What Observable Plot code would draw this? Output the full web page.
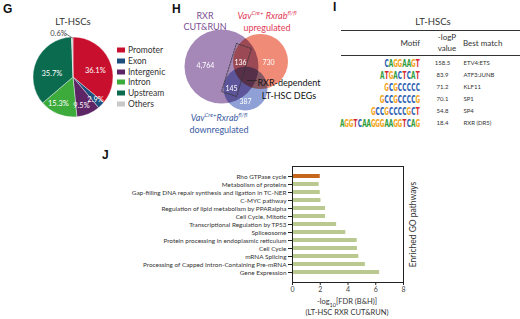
<!DOCTYPE html>
<html><head><meta charset="utf-8">
<script src="https://cdn.jsdelivr.net/npm/d3@7"></script>
<script src="https://cdn.jsdelivr.net/npm/@observablehq/plot@0.6"></script>
<style>
body{margin:0;background:#fff;}
#fig{position:relative;width:520px;height:319px;overflow:hidden;font-family:Lato,"Open Sans",sans-serif;color:#333;}
#fig svg{position:absolute;overflow:visible;}
.t{position:absolute;white-space:nowrap;line-height:1;}
.pl{font-family:Arial,"Liberation Sans",sans-serif;font-weight:bold;font-size:12px;color:#111;}
</style></head><body><div id="fig"></div>
<script>
// ---------- DATA ----------
// G: genomic distribution of RXR peaks
const pieCategories = ["Promoter","Exon","Intergenic","Intron","Upstream","Others"];
const piePercents   = [36.1, 2.9, 9.5, 15.3, 35.7, 0.6];
const pieColors     = ["#c8102e","#1d4f7e","#5d2466","#3cab3c","#0a6b4e","#c9c9c9"];

// H: Venn region counts
const vennRegions = ["RXR only","RXR ∩ up","up only","RXR ∩ down","down only"];
const vennCounts  = [4764, 136, 730, 145, 387];

// I: motif table
const motifs       = ["CAGGAAGT","ATGACTCAT","GCGCCCCC","GCCGCCCCG","GCCGCCCCGCT","AGGTCAAGGGAAGGTCAG"];
const motifLogP    = [158.5, 83.9, 71.2, 70.1, 54.8, 18.4];
const motifMatches = ["ETV4:ETS","ATF3:JUNB","KLF11","SP1","SP4","RXR (DR5)"];

// J: enriched GO pathways
const pathways = ["Rho GTPase cycle","Metabolism of proteins","Gap-filling DNA repair synthesis and ligation in TC-NER","C-MYC pathway","Regulation of lipid metabolism by PPARalpha","Cell Cycle, Mitotic","Transcriptional Regulation by TP53","Spliceosome","Protein processing in endoplasmic reticulum","Cell Cycle","mRNA Splicing","Processing of Capped Intron-Containing Pre-mRNA","Gene Expression"];
const pathwayScores = [2.0, 1.92, 2.0, 2.05, 2.38, 2.38, 3.18, 3.84, 4.66, 4.68, 4.78, 5.25, 6.28];
const xTicks = [0, 2, 4, 6, 8];

// ---------- LAYOUT ----------
const FONT = "Lato, 'Open Sans', sans-serif";
const fig = document.getElementById("fig");
function place(node, x, y){ node.style.left = x+"px"; node.style.top = y+"px"; fig.appendChild(node); return node; }
function label(html, x, y, css={}, anchor="middle"){
  const d = document.createElement("div"); d.className="t"; d.innerHTML = html;
  Object.assign(d.style, css);
  const tx = anchor==="middle" ? "-50%" : anchor==="end" ? "-100%" : "0";
  d.style.transform = `translate(${tx},-50%)`;
  return place(d, x, y);
}

// ---------- G: pie ----------
const PIE = {cx:73, cy:77, r:40};
// label placement inside each slice: fraction along the slice's angle, and radius (px)
const pieLabelFrac   = [0.55, 0.45, 0.7, 0.65, 0.4];
const pieLabelRadius = [23, 31, 29, 30, 22];
const pieRows = pieCategories.map((c,i)=>({category:c, value:piePercents[i], color:pieColors[i]}));
const arcs = d3.pie().sort(null).value(d=>d.value)(pieRows);
const pieLabelRows = arcs.filter(a=>a.data.value>1).map((a,i)=>{
  const th = a.startAngle + pieLabelFrac[i]*(a.endAngle-a.startAngle);
  const rr = pieLabelRadius[i];
  return {x:PIE.cx+rr*Math.sin(th), y:PIE.cy-rr*Math.cos(th), text:a.data.value.toFixed(1)+"%"};
});
const others = arcs[arcs.length-1];
const G = Plot.plot({
  width:170, height:130, margin:0,
  x:{domain:[0,170], range:[0,170], axis:null},
  y:{domain:[0,130], range:[0,130], axis:null},
  style:{fontFamily:FONT, background:"transparent"},
  marks:[
    (index, scales) => {
      const g = d3.create("svg:g").attr("transform", `translate(${scales.x(PIE.cx)},${scales.y(PIE.cy)})`);
      const arc = d3.arc().innerRadius(0).outerRadius(PIE.r);
      g.selectAll("path").data(arcs).join("path").attr("d", arc)
        .attr("fill", d=>d.data.color).attr("stroke","#fff").attr("stroke-width",0.4);
      return g.node();
    },
    Plot.text(pieLabelRows, {x:"x", y:"y", text:"text", fill:"white", fontSize:7.5}),
    Plot.text([others], {x:PIE.cx-15, y:PIE.cy-PIE.r-4, text:d=>d.data.value.toFixed(1)+"%", fill:"#444", fontSize:7.5}),
    Plot.line([[PIE.cx-8, PIE.cy-PIE.r-4],[PIE.cx-1, PIE.cy-PIE.r+0.5]], {x:d=>d[0], y:d=>d[1], stroke:"#444", strokeWidth:0.7})
  ]
});
place(G, 0, 0);
label("LT-HSCs", 73, 22, {fontSize:"9.5px"});
pieCategories.forEach((c,i)=>{
  const y = 50 + i*10.8;
  const sw = document.createElement("div"); sw.className="t";
  Object.assign(sw.style,{width:"8px",height:"5px",background:pieColors[i],transform:"translate(0,-50%)"});
  place(sw, 117, y);
  label(c, 128, y, {fontSize:"8.5px"}, "start");
});

// ---------- H: Venn ----------
const vennCircles = [
  {x:221, y:66, r:37, fill:"#a587b8"},
  {x:260, y:61, r:27.5, fill:"#ef8b76"},
  {x:245, y:88, r:22, fill:"#8ea0d6"}
];
const vennLabelAt = [[205,65],[240,62],[268,62],[231,88],[245,101]];
const vennText = vennCounts.map((v,i)=>({x:vennLabelAt[i][0], y:vennLabelAt[i][1], t:d3.format(",")(v)}));
const dashedBox = [[236,43],[251,48],[236,96],[221,91],[236,43]];
const H = Plot.plot({
  width:170, height:140, margin:0,
  x:{domain:[170,340], range:[0,170], axis:null},
  y:{domain:[0,140], range:[0,140], axis:null},
  style:{fontFamily:FONT, background:"transparent"},
  marks:[
    ...vennCircles.map(c=>Plot.dot([c], {x:"x", y:"y", r:c.r, fill:c.fill, stroke:null})),
    Plot.text(vennText, {x:"x", y:"y", text:"t", fill:"white", fontSize:7}),
    Plot.line(dashedBox, {x:d=>d[0], y:d=>d[1], stroke:"#333", strokeWidth:0.8, strokeDasharray:"2,1.3"}),
    Plot.line([[247,80],[256,80]], {x:d=>d[0], y:d=>d[1], stroke:"#222", strokeWidth:0.7})
  ]
});
H.querySelectorAll("circle").forEach(c=>c.style.mixBlendMode="multiply");
H.style.isolation="isolate";
place(H, 170, 0);
label("RXR", 205, 15, {fontSize:"9px", color:"#7a4f93"});
label("CUT&amp;RUN", 205, 26, {fontSize:"9px", color:"#7a4f93"});
label("<i>Vav</i><sup style='font-size:6px'><i>Cre+</i></sup> <i>Rxrab</i><sup style='font-size:6px'><i>fl/fl</i></sup>", 267, 15, {fontSize:"9px", color:"#df3a56"});
label("upregulated", 267, 27, {fontSize:"9px", color:"#df3a56"});
label("<i>Vav</i><sup style='font-size:6px'><i>Cre+</i></sup><i>Rxrab</i><sup style='font-size:6px'><i>fl/fl</i></sup>", 219, 117, {fontSize:"9px", color:"#3b5ba3"});
label("downregulated", 219, 129, {fontSize:"9px", color:"#3b5ba3"});
label("RXR-dependent", 289, 82, {fontSize:"9px", color:"#111"});
label("LT-HSC DEGs", 289, 95, {fontSize:"9px", color:"#111"});

// ---------- I: motif table ----------
const letterColor = {A:"#2f9b3a", C:"#2a5cb0", G:"#f2a51c", T:"#d8282f"};
const letterRows = motifs.flatMap((m,row)=>m.split("").map((ch,j)=>({row, k:m.length-1-j, ch, color:letterColor[ch]})));
const rowIdx = d3.range(motifs.length);
const I = Plot.plot({
  width:190, height:135, margin:0,
  x:{domain:[0,20], range:[90,1], axis:null},
  y:{type:"point", domain:rowIdx, range:[63,123.5], padding:0, axis:null},
  style:{fontFamily:FONT, background:"transparent"},
  marks:[
    (index, scales) => {
      const g = d3.create("svg:g").attr("font-family","'DejaVu Sans',sans-serif").attr("font-weight","bold").attr("font-size",7).attr("text-anchor","middle");
      g.selectAll("text").data(letterRows).join("text")
        .attr("transform", d=>`translate(${scales.x(d.k+0.5)},${scales.y(d.row)+4.3}) scale(0.82,1.5)`)
        .attr("fill", d=>d.color).text(d=>d.ch);
      return g.node();
    },
    Plot.text(rowIdx, {y:d=>d, text:d=>motifLogP[d].toFixed(1), frameAnchor:"left", dx:112, textAnchor:"middle", fontSize:6, fill:"#333"}),
    Plot.text(rowIdx, {y:d=>d, text:d=>motifMatches[d], frameAnchor:"left", dx:133, textAnchor:"start", fontSize:6, fill:"#333"})
  ]
});
place(I, 330, 0);
label("LT-HSCs", 433, 22, {fontSize:"9.5px"});
const rule = (y,h)=>{const d=document.createElement("div");d.className="t";Object.assign(d.style,{width:"179px",height:h+"px",background:"#333"});place(d,341,y);};
rule(29.5,1.6); rule(55,0.8);
label("Motif", 420, 43, {fontSize:"8px"}, "end");
label("-logP", 447, 37, {fontSize:"8px"});
label("value", 447, 48, {fontSize:"8px"});
label("Best match", 463, 43, {fontSize:"8px"}, "start");

// ---------- J: GO bar chart ----------
const jRows = pathways.map((p,i)=>({pathway:p, score:pathwayScores[i], top:i===0}));
const J = Plot.plot({
  width:520, height:179, marginTop:26, marginBottom:37, marginLeft:292, marginRight:117,
  style:{fontFamily:FONT, background:"transparent", color:"#333"},
  x:{domain:[0,8]},
  y:{domain:pathways, paddingInner:0.52, paddingOuter:0.65},
  marks:[
    Plot.barX(jRows.filter(d=>!d.top), {x:"score", y:"pathway", fill:"#b9c98f"}),
    Plot.barX(jRows.filter(d=>d.top), {x:"score", y:"pathway", fill:"#c7671e"}),
    Plot.axisX({ticks:xTicks, tickSize:3, tickPadding:2, fontSize:7, label:null, stroke:"#222", fill:"#444"}),
    Plot.axisY({tickSize:4, tickPadding:2, fontSize:6.4, label:null, stroke:"#222", fill:"#333"}),
    Plot.frame({stroke:"#222"}),
    Plot.text(["Enriched GO pathways"], {frameAnchor:"right", dx:10, rotate:-90, textAnchor:"middle", fontSize:8.5, fill:"#333"})
  ]
});
place(J, 0, 140);
label("-log<sub style='font-size:5.5px'>10</sub>[FDR (B&amp;H)]", 347, 303, {fontSize:"7.5px"});
label("(LT-HSC RXR CUT&amp;RUN)", 347, 313, {fontSize:"7.5px"});

// ---------- panel letters ----------
label("G", 3, 9, {}, "start").classList.add("pl");
label("H", 172, 9, {}, "start").classList.add("pl");
label("I", 333, 7, {}, "start").classList.add("pl");
label("J", 102, 155, {}, "start").classList.add("pl");
</script></body></html>
